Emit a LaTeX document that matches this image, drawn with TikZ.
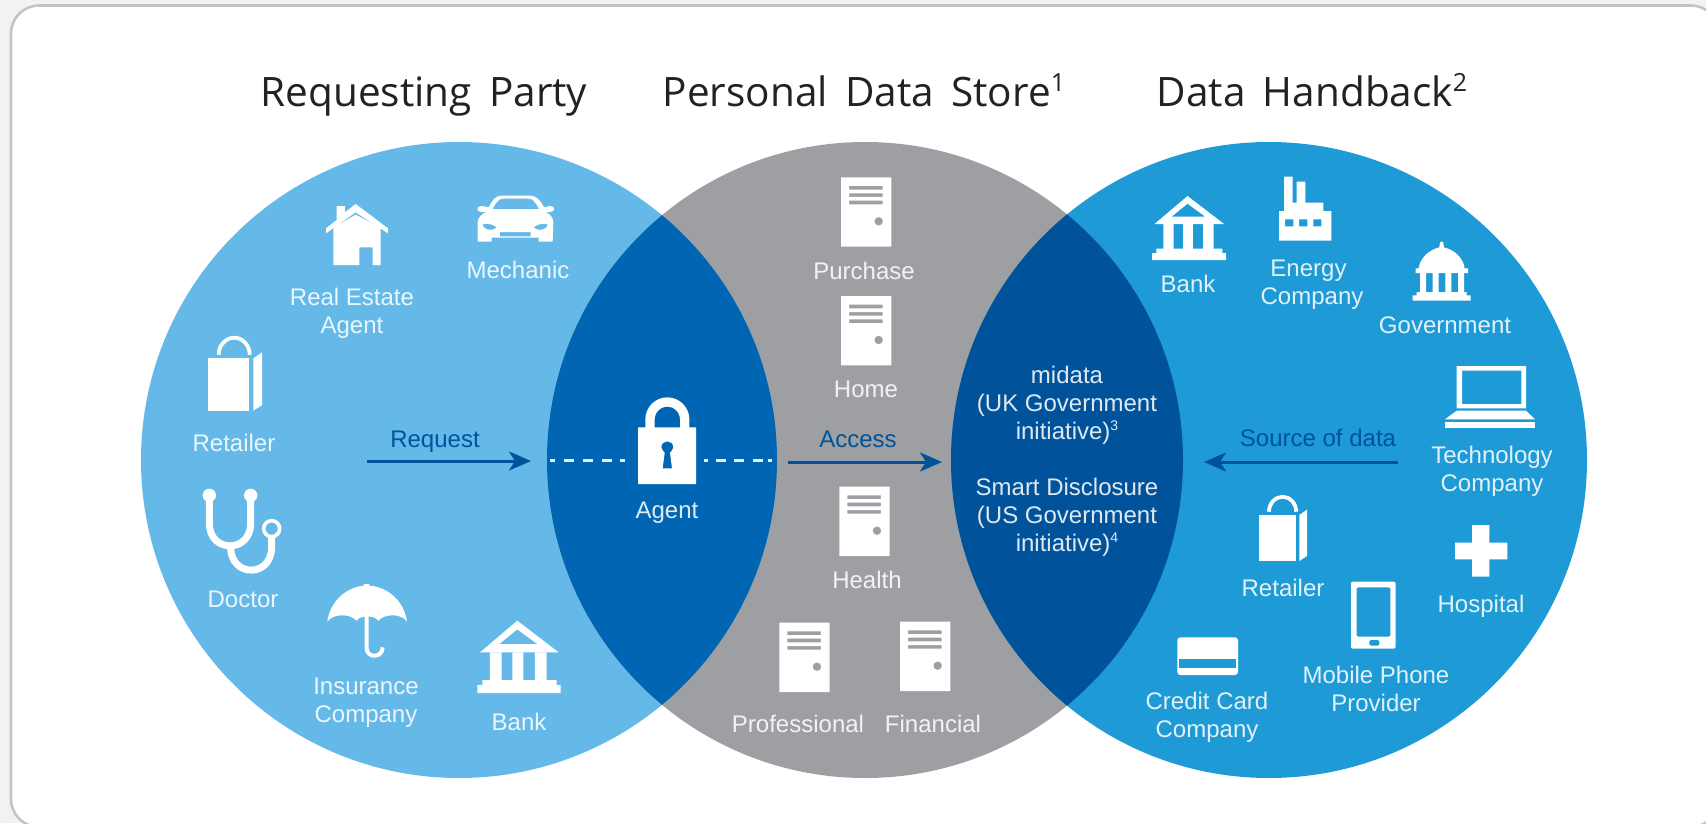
\documentclass[tikz,border=0pt]{standalone}
\usepackage{fontspec}
\usetikzlibrary{arrows.meta}
\setmainfont{Liberation Sans}
\newfontfamily\titlefont[WordSpace=1.65]{Open Sans}
\definecolor{pageback}{HTML}{F2F2F2}
\definecolor{framegray}{HTML}{C4C4C4}
\definecolor{lightblue}{HTML}{65B9E9}
\definecolor{midgray}{HTML}{9D9FA2}
\definecolor{rightblue}{HTML}{1E9AD6}
\definecolor{overlapA}{HTML}{0066B3}
\definecolor{overlapB}{HTML}{00539B}
\definecolor{labelwhite}{HTML}{FFFFFF}
\definecolor{titleink}{HTML}{222222}
\newcommand{\lblfont}{\fontsize{24}{28}\selectfont}
\newcommand{\supnum}[1]{\raisebox{9pt}{\fontsize{14}{14}\selectfont #1}}
\newcommand{\titlesup}[1]{\raisebox{15pt}{\fontsize{25}{25}\selectfont #1}}
\tikzset{
  x=1pt,y=-1pt,
  lbl/.style={anchor=base,yshift=1pt,inner sep=0pt,outer sep=0pt,align=center,text=labelwhite,text opacity=0.87,font=\lblfont},
  darklbl/.style={lbl,text=overlapB,text opacity=1},
  heading/.style={anchor=base,inner sep=0pt,outer sep=0pt,text=titleink,font=\titlefont\fontsize{40.5}{48}\selectfont},
  flowarrow/.style={draw=overlapB,line width=3pt,-{Stealth[length=22pt,width=19pt,inset=6pt]}},
  dashline/.style={draw=labelwhite,draw opacity=0.9,line width=3pt},
  iconfill/.style={fill=white,even odd rule,draw=none},
  zoomA/.style={shift={(100,130)},scale=0.33333},
  zoomB/.style={shift={(100,470)},scale=0.33333},
  zoomC/.style={shift={(550,380)},scale=0.33333},
  zoomD/.style={shift={(1120,160)},scale=0.33333},
  zoomE/.style={shift={(1120,470)},scale=0.33333},
  servericon/.pic={
    \fill[iconfill] (0,0) rectangle (151,208)
      (24,26) rectangle (125,37) (24,48) rectangle (125,59) (24,70) rectangle (125,81)
      (113,132) circle[radius=13];
  },
  bagicon/.pic={
    \begin{scope}[shift={(-323,-617)}]
      \fill[white] (323,685) rectangle (448,842);
      \fill[white] (460,685) -- (486,667) -- (486,825) -- (460,842) -- cycle;
      \draw[white,line width=3.8pt] (356,674) .. controls (356,645) and (378,623) .. (402.5,623) .. controls (427,623) and (449,645) .. (449,674);
    \end{scope}
  },
  bankicon/.pic={
    \begin{scope}[shift={(-1132,-452)}]
      \fill[iconfill] (1252,452) -- (1376,547) -- (1140,547) -- cycle
        (1252,478) -- (1312,522) -- (1198,522) -- cycle;
      \fill[white] (1170,547) rectangle (1205,632) (1237,547) rectangle (1270,632) (1305,547) rectangle (1340,632);
      \fill[white] (1147,630) rectangle (1370,646) (1132,645) rectangle (1382,669);
    \end{scope}
  }
}
\begin{document}
\begin{tikzpicture}
\useasboundingbox (0,0) rectangle (1706,823);
\clip (0,0) rectangle (1706,823);
\fill[pageback] (0,0) rectangle (1706,823);
\draw[framegray,line width=2.6pt,fill=white,rounded corners=28pt] (11,5.5) rectangle (1719,827);

% circles
\coordinate (cL) at (459,460);
\coordinate (cM) at (865,460);
\coordinate (cR) at (1269,460);
\fill[lightblue] (cL) circle[radius=318];
\fill[midgray] (cM) circle[radius=318];
\fill[rightblue] (cR) circle[radius=318];
\begin{scope}
  \clip (cL) circle[radius=318];
  \fill[overlapA] (cM) circle[radius=318];
\end{scope}
\begin{scope}
  \clip (cM) circle[radius=318];
  \fill[overlapB] (cR) circle[radius=318];
\end{scope}

% titles
\node[heading] (titleL) at (424,106) {Requesting Party};
\node[heading] (titleM) at (864,106) {Personal Data Store\titlesup{1}};
\node[heading] (titleR) at (1312,106) {Data Handback\titlesup{2}};

% left circle icons
\begin{scope}[zoomA]
  % house
  \fill[white] (678,295) -- (710,270) -- (710,228) -- (735,228) -- (735,247) -- (767,222) -- (864,295) -- (864,310) -- (767,247) -- (678,310) -- cycle;
  \fill[iconfill] (700,292) -- (767,254) -- (842,292) -- (842,405) -- (818,405) -- (818,352) -- (778,352) -- (778,405) -- (700,405) -- cycle;
  % car
  \fill[iconfill] (1133,335) -- (1133,278) .. controls (1133,262) and (1145,252) .. (1160,246)
    -- (1145,246) .. controls (1128,246) and (1128,228) .. (1145,228) -- (1166,232)
    .. controls (1180,205) and (1190,197) .. (1205,197) -- (1290,197) .. controls (1305,197) and (1318,205) .. (1332,232)
    -- (1350,228) .. controls (1367,228) and (1367,246) .. (1350,246) -- (1336,246)
    .. controls (1350,252) and (1360,262) .. (1360,278) -- (1358,335) -- (1316,335) -- (1316,323) -- (1175,323) -- (1175,335) -- cycle
    (1178,237) .. controls (1190,213) and (1198,206) .. (1210,206) -- (1285,206) .. controls (1297,206) and (1305,213) .. (1317,237) -- cycle
    (1147,283) .. controls (1165,278) and (1185,285) .. (1190,293) .. controls (1175,305) and (1150,300) .. (1147,283) -- cycle
    (1344,283) .. controls (1326,278) and (1306,285) .. (1301,293) .. controls (1316,305) and (1341,300) .. (1344,283) -- cycle
    (1200,306) rectangle (1292,319);
\end{scope}
\pic[scale=0.33333] (bagL) at (207.7,335.7) {bagicon};
\begin{scope}[zoomB]
  % stethoscope
  \fill[white] (328,76) circle[radius=20] (452,76) circle[radius=20];
  \draw[white,line width=7pt] (328,76) -- (328,160) .. controls (328,250) and (452,250) .. (452,160) -- (452,76);
  \draw[white,line width=7pt] (392,232) .. controls (392,322) and (515,325) .. (515,230) -- (515,198);
  \draw[white,line width=3.6pt] (515,176) circle[radius=24];
  % umbrella
  \fill[white] (682,455) .. controls (690,390) and (745,350) .. (792,347) -- (792,342) -- (808,342) -- (808,347)
    .. controls (860,350) and (912,390) .. (921,455)
    .. controls (905,430) and (855,430) .. (835,452) .. controls (825,435) and (780,435) .. (770,452)
    .. controls (750,430) and (700,430) .. (682,455) -- cycle;
  \draw[white,line width=4pt] (800,430) -- (800,535) .. controls (800,565) and (848,565) .. (848,532);
\end{scope}
\pic[scale=0.33333] (bankL) at (477.3,620.7) {bankicon};

% agent lock
\begin{scope}[zoomC]
  \draw[white,line width=9.3pt] (300,145) -- (300,118) .. controls (300,90) and (323,66) .. (352,66) .. controls (381,66) and (404,90) .. (404,118) -- (404,145);
  \fill[iconfill] (264,142) rectangle (438,312)
    (334,202) .. controls (334,178) and (370,178) .. (370,202) .. controls (370,210) and (362,214) .. (360,218)
    -- (366,265) -- (338,265) -- (344,218) .. controls (342,214) and (334,210) .. (334,202) -- cycle;
\end{scope}

% servers
\pic[scale=0.33333] (srvPurchase) at (841,177.3) {servericon};
\pic[scale=0.33333] (srvHome) at (841,296) {servericon};
\pic[scale=0.33333] (srvHealth) at (839.3,486.7) {servericon};
\pic[scale=0.33333] (srvProf) at (779.3,622.7) {servericon};
\pic[scale=0.33333] (srvFin) at (900,621.7) {servericon};

% right circle icons
\pic[scale=0.296] (bankR) at (1152,196) {bankicon};
\pic[scale=0.293] (bagR) at (1259.3,495) {bagicon};
\begin{scope}[zoomD]
  % factory
  \fill[iconfill] (477,242) -- (477,153) -- (492,153) -- (492,50) -- (518,50) -- (518,128) -- (530,128) -- (530,65) -- (556,65) -- (556,128) -- (610,128) -- (610,153) -- (634,153) -- (634,242) -- cycle
    (495,178) rectangle (520,199) (537,178) rectangle (562,199) (580,178) rectangle (604,199);
  % government
  \fill[white] (958,262) -- (960,248) .. controls (962,243) and (968,243) .. (970,248) -- (972,262)
    .. controls (1005,270) and (1030,295) .. (1034,325) -- (1044,325) -- (1044,339) -- (887,339) -- (887,325) -- (896,325)
    .. controls (900,295) and (925,270) .. (958,262) -- cycle;
  \fill[white] (900,338) rectangle (918,397) (938,338) rectangle (956,397) (976,338) rectangle (994,397) (1014,338) rectangle (1032,397);
  \fill[white] (890,396) rectangle (1040,407) (878,406) rectangle (1052,422);
  % laptop
  \fill[iconfill] (1010,618) rectangle (1218,745) (1026,632) rectangle (1204,732);
  \fill[white] (1010,752) -- (1218,752) -- (1245,778) -- (975,778) -- cycle;
  \fill[white] (975,787) rectangle (1245,805);
\end{scope}
\begin{scope}[zoomE]
  % cross
  \fill[white] (1056,165) -- (1108,165) -- (1108,218) -- (1162,218) -- (1162,268) -- (1108,268) -- (1108,320) -- (1056,320) -- (1056,268) -- (1005,268) -- (1005,218) -- (1056,218) -- cycle;
  % phone
  \fill[white,rounded corners=2pt] (693,335) rectangle (827,536);
  \fill[rightblue,rounded corners=2pt] (710,352) rectangle (811,500);
  \fill[rightblue,rounded corners=2pt] (748,510) rectangle (778,527);
  % credit card
  \fill[white,rounded corners=3pt] (172,502) rectangle (354,615);
  \fill[rightblue] (178,567) rectangle (348,595);
\end{scope}

% connectors
\coordinate (reqS) at (367,461);
\coordinate (reqE) at (531,461);
\coordinate (accS) at (788,462);
\coordinate (accE) at (942,462);
\coordinate (srcS) at (1398,462);
\coordinate (srcE) at (1204,462);
\coordinate (dashAS) at (550,460);
\coordinate (dashAE) at (625,460);
\coordinate (dashBS) at (704,460);
\coordinate (dashBE) at (772,460);
\draw[flowarrow] (reqS) -- (reqE);
\draw[flowarrow] (accS) -- (accE);
\draw[flowarrow] (srcS) -- (srcE);
\draw[dashline,dash pattern=on 5pt off 8.5pt on 10pt off 9.5pt on 10pt off 9pt on 10pt off 8pt on 5pt off 100pt] (dashAS) -- (dashAE);
\draw[dashline,dash pattern=on 4pt off 8pt on 10pt off 7.5pt on 10pt off 9pt on 10pt off 5pt on 5pt off 100pt] (dashBS) -- (dashBE);

% labels left
\node[lbl] (lRealEstate) at (352,334) {Real Estate\\Agent};
\node[lbl] (lMechanic) at (518,279) {Mechanic};
\node[lbl] (lRetailerL) at (234,452) {Retailer};
\node[darklbl] (lRequest) at (435,448) {Request};
\node[lbl] (lDoctor) at (243,608) {Doctor};
\node[lbl] (lInsurance) at (366,723) {Insurance\\Company};
\node[lbl] (lBankL) at (519,731) {Bank};
% labels middle
\node[lbl] (lAgent) at (667,519) {Agent};
\node[lbl] (lPurchase) at (864,280) {Purchase};
\node[lbl] (lHome) at (866,398) {Home};
\node[darklbl] (lAccess) at (858,448) {Access};
\node[lbl] (lHealth) at (867,589) {Health};
\node[lbl] (lProf) at (798,733) {Professional};
\node[lbl] (lFin) at (933,733) {Financial};
\node[lbl] (lMidata) at (1067,440) {midata\\(UK Government\\initiative)\supnum{3}};
\node[lbl] (lSmart) at (1067,552) {Smart Disclosure\\(US Government\\initiative)\supnum{4}};
% labels right
\node[lbl] (lBankR) at (1188,293) {Bank};
\node[lbl] (lEnergy) at (1312,305) {Energy\hspace*{7pt}\\Company};
\node[lbl] (lGov) at (1445,334) {Government};
\node[darklbl] (lSource) at (1318,447) {Source of data};
\node[lbl] (lTech) at (1492,492) {Technology\\Company};
\node[lbl] (lRetailerR) at (1283,597) {Retailer};
\node[lbl] (lHospital) at (1481,613) {Hospital};
\node[lbl] (lMobile) at (1376,712) {Mobile Phone\\Provider};
\node[lbl] (lCredit) at (1207,738) {Credit Card\\Company};
\end{tikzpicture}
\end{document}
